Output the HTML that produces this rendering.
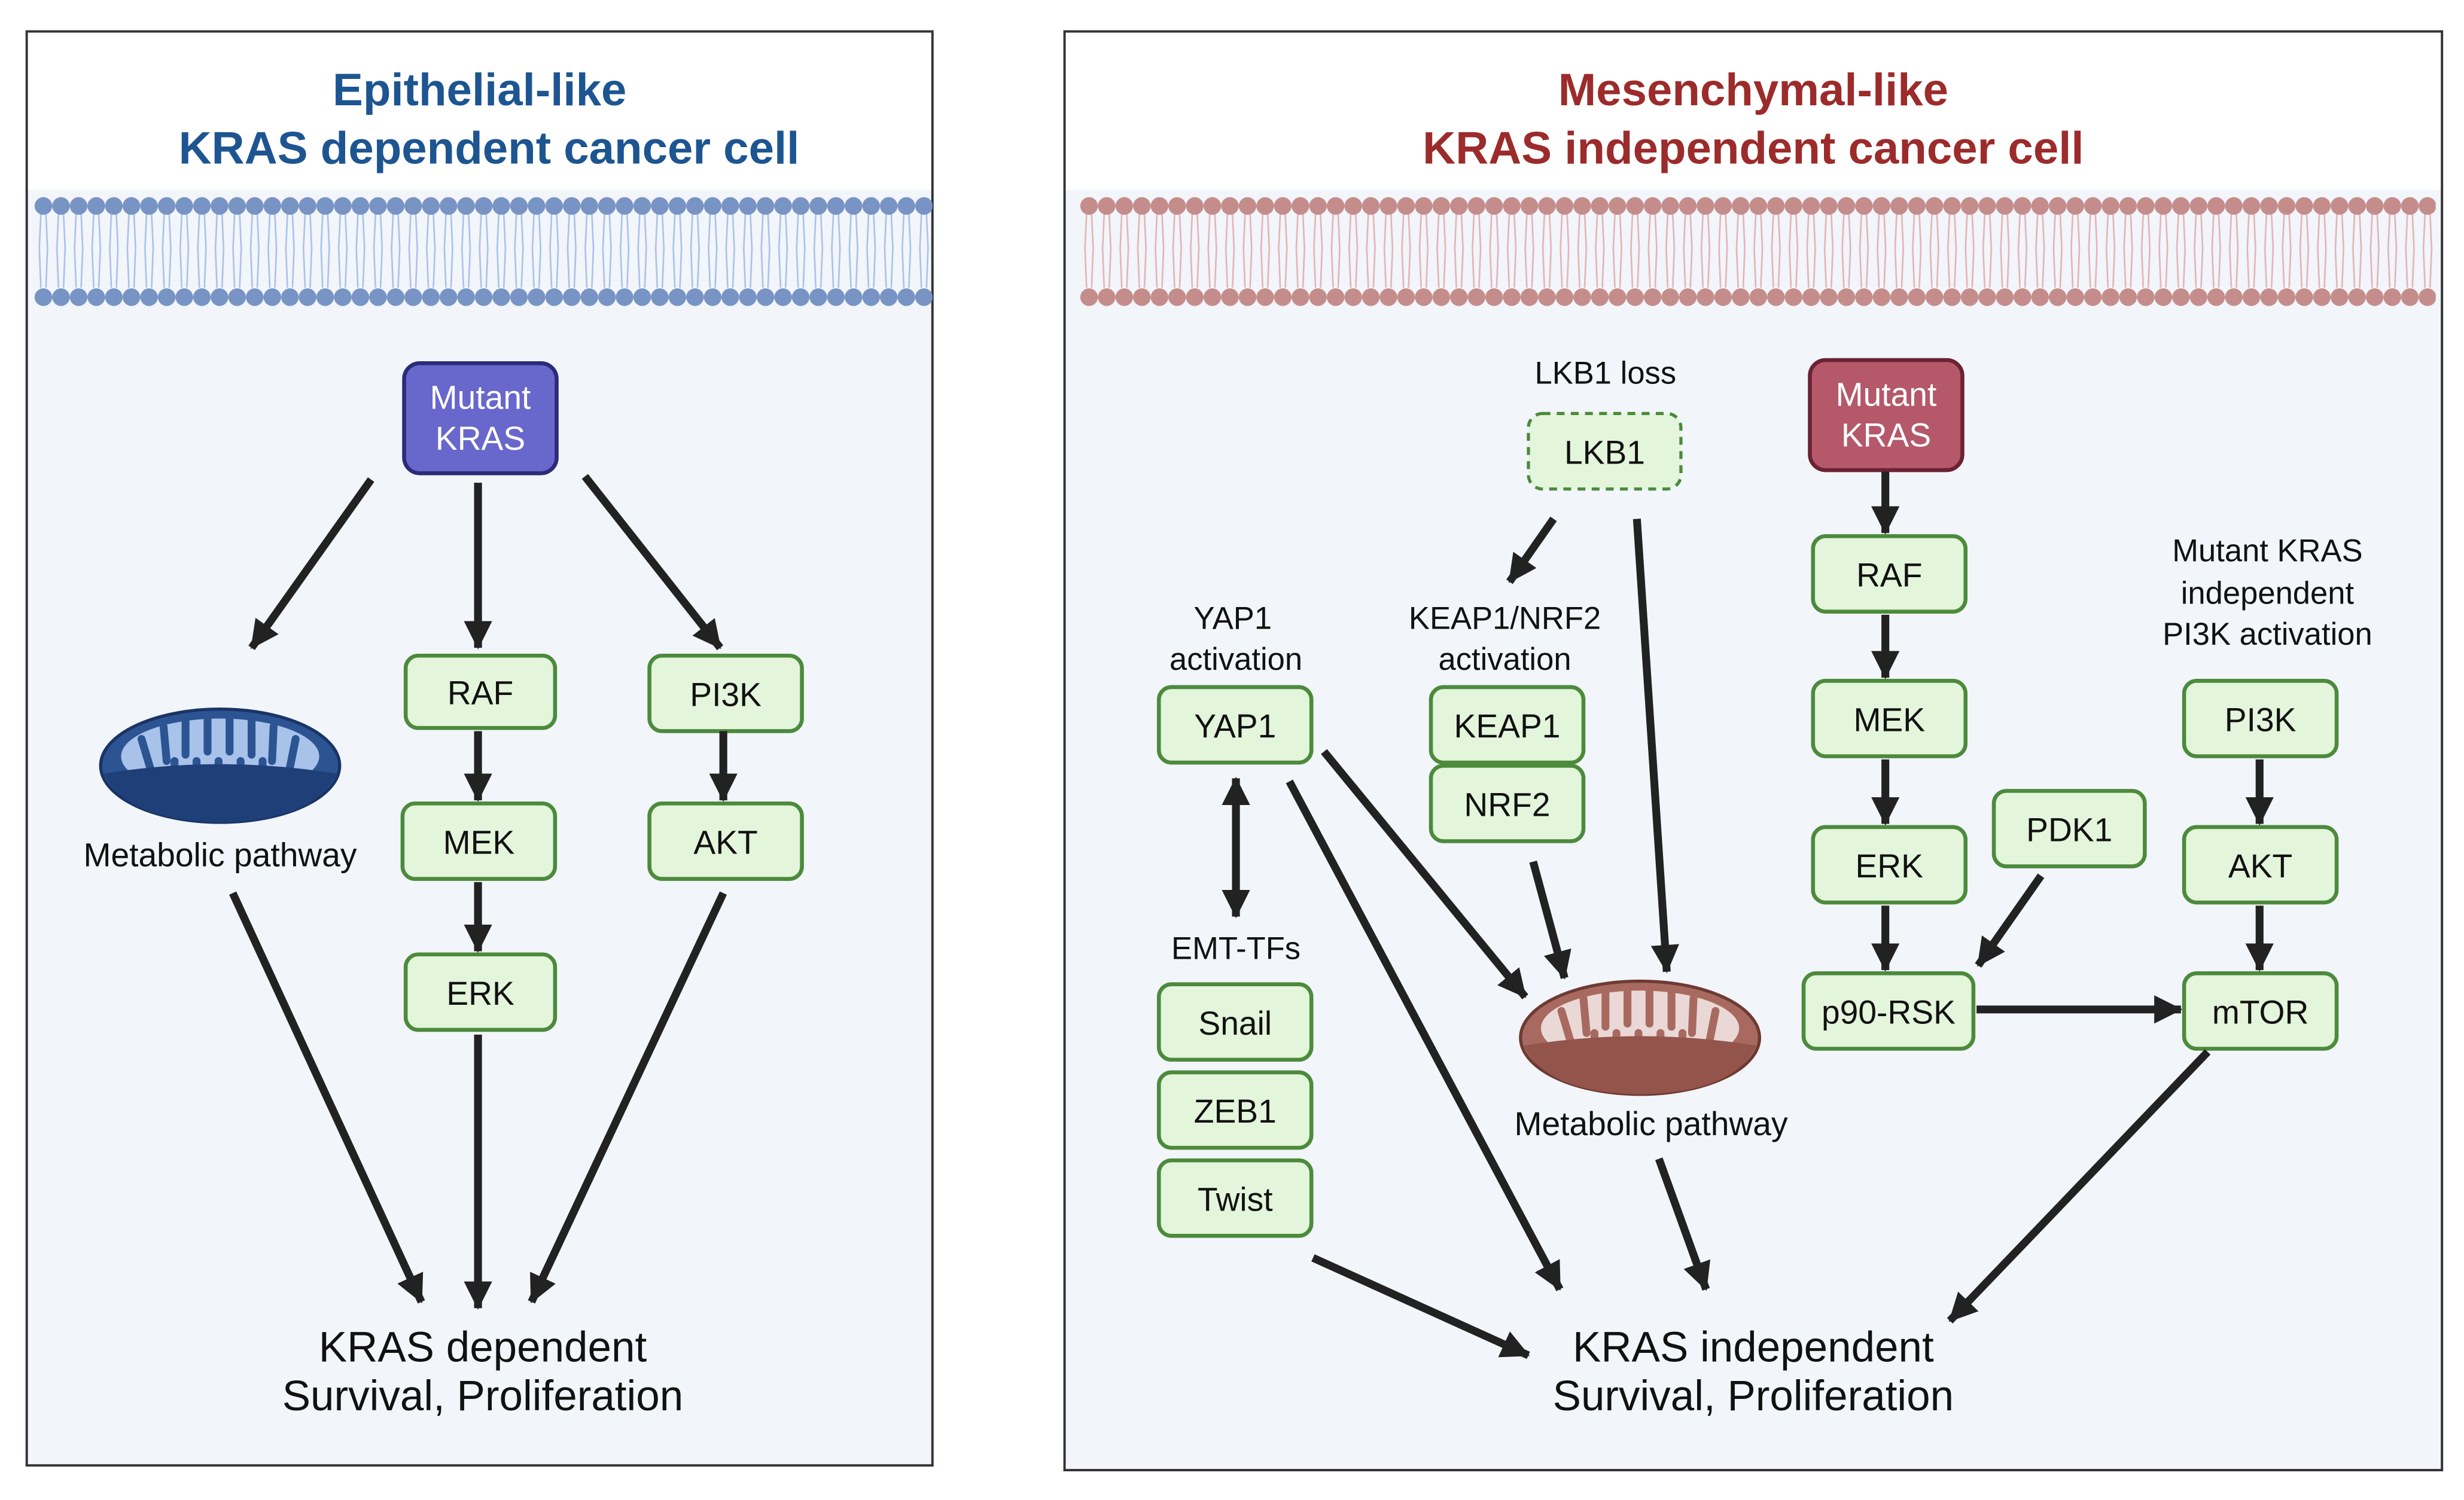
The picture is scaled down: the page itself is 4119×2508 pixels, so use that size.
<!DOCTYPE html>
<html><head><meta charset="utf-8"><style>
html,body{margin:0;padding:0;background:#fff;}
svg{display:block;}
text{font-family:"Liberation Sans",sans-serif;}
</style></head><body>
<svg width="4119" height="2508" viewBox="0 0 1567 954" preserveAspectRatio="none" xmlns="http://www.w3.org/2000/svg">
<defs>
<marker id="ah" markerUnits="userSpaceOnUse" markerWidth="20" markerHeight="18" refX="17" refY="9" orient="auto-start-reverse">
<path d="M0,0 L18,9 L0,18 z" fill="#222"/>
</marker>
<pattern id="memB" x="22" y="0" width="11.2" height="954" patternUnits="userSpaceOnUse">
<path d="M4,136 L3,158 L4,183 M7.2,136 L8.2,158 L7.2,183" stroke="#a9c2ea" stroke-width="1" fill="none"/>
<circle cx="5.6" cy="131" r="5.6" fill="#7894c4"/>
<circle cx="5.6" cy="189" r="5.6" fill="#7894c4"/>
</pattern>
<pattern id="memR" x="687" y="0" width="11.2" height="954" patternUnits="userSpaceOnUse">
<path d="M4,136 L3,158 L4,183 M7.2,136 L8.2,158 L7.2,183" stroke="#e3b4b4" stroke-width="1" fill="none"/>
<circle cx="5.6" cy="131" r="5.6" fill="#c48d8b"/>
<circle cx="5.6" cy="189" r="5.6" fill="#c48d8b"/>
</pattern>
</defs>
<rect width="1567" height="954" fill="#fff"/>
<!-- left panel -->
<rect x="17" y="20" width="576" height="912" fill="#f2f5fa" stroke="#333" stroke-width="1.5"/>
<rect x="17.8" y="20.8" width="574.4" height="100" fill="#fff"/>
<text x="305" y="67" font-size="29" font-weight="bold" fill="#1d5591" text-anchor="middle">Epithelial-like</text>
<text x="311" y="104" font-size="29" font-weight="bold" fill="#1d5591" text-anchor="middle">KRAS dependent cancer cell</text>
<rect x="22" y="124" width="571" height="72" fill="url(#memB)"/>
<!-- right panel -->
<rect x="677" y="20" width="876" height="915" fill="#f2f5fa" stroke="#333" stroke-width="1.5"/>
<rect x="677.8" y="20.8" width="874.4" height="100" fill="#fff"/>
<text x="1115" y="67" font-size="29" font-weight="bold" fill="#9c2b2b" text-anchor="middle">Mesenchymal-like</text>
<text x="1115" y="104" font-size="29" font-weight="bold" fill="#9c2b2b" text-anchor="middle">KRAS independent cancer cell</text>
<rect x="687" y="124" width="862" height="72" fill="url(#memR)"/>

<g font-size="21" text-anchor="middle" fill="#111">
<rect x="257" y="231" width="97" height="70" rx="10" fill="#6767cc" stroke="#2b2b78" stroke-width="2.5"/>
<text x="305.5" y="260" fill="#fff" font-size="21">Mutant</text>
<text x="305.5" y="286" fill="#fff" font-size="21">KRAS</text>
<g fill="#e3f5db" stroke="#4c8a3c" stroke-width="2.5">
<rect x="258" y="417" width="95" height="46" rx="8"/>
<rect x="256" y="511" width="97" height="48" rx="8"/>
<rect x="258" y="607" width="95" height="48" rx="8"/>
<rect x="413" y="417" width="97" height="48" rx="8"/>
<rect x="413" y="511" width="97" height="48" rx="8"/>
</g>
<text x="305.5" y="448">RAF</text>
<text x="304.5" y="543">MEK</text>
<text x="305.5" y="639">ERK</text>
<text x="461.5" y="449">PI3K</text>
<text x="461.5" y="543">AKT</text>
<text x="140" y="551" font-size="21">Metabolic pathway</text>
<text x="307" y="866" font-size="27">KRAS dependent</text>
<text x="307" y="897" font-size="27">Survival, Proliferation</text>

<text x="1021" y="244" font-size="20">LKB1 loss</text>
<rect x="972" y="263" width="97" height="48" rx="9" fill="#e3f5db" stroke="#4c8a3c" stroke-width="2" stroke-dasharray="5,4"/>
<text x="1020.5" y="295">LKB1</text>
<rect x="1151" y="229" width="97" height="70" rx="10" fill="#b4586a" stroke="#6b2232" stroke-width="2.5"/>
<text x="1199.5" y="258" fill="#fff" font-size="21">Mutant</text>
<text x="1199.5" y="284" fill="#fff" font-size="21">KRAS</text>
<g fill="#e3f5db" stroke="#4c8a3c" stroke-width="2.5">
<rect x="1153" y="341" width="97" height="48" rx="8"/>
<rect x="1153" y="433" width="97" height="48" rx="8"/>
<rect x="1153" y="526" width="97" height="48" rx="8"/>
<rect x="1147" y="619" width="108" height="48" rx="8"/>
<rect x="1268" y="503" width="96" height="48" rx="8"/>
<rect x="1389" y="433" width="97" height="48" rx="8"/>
<rect x="1389" y="526" width="97" height="48" rx="8"/>
<rect x="1389" y="619" width="97" height="48" rx="8"/>
<rect x="737" y="437" width="97" height="48" rx="8"/>
<rect x="910" y="437" width="97" height="48" rx="8"/>
<rect x="910" y="487" width="97" height="48" rx="8"/>
<rect x="737" y="626" width="97" height="48" rx="8"/>
<rect x="737" y="682" width="97" height="48" rx="8"/>
<rect x="737" y="738" width="97" height="48" rx="8"/>
</g>
<text x="1201.5" y="373">RAF</text>
<text x="1201.5" y="465">MEK</text>
<text x="1201.5" y="558">ERK</text>
<text x="1201" y="651">p90-RSK</text>
<text x="1316" y="535">PDK1</text>
<text x="1437.5" y="465">PI3K</text>
<text x="1437.5" y="558">AKT</text>
<text x="1437.5" y="651">mTOR</text>
<text x="785.5" y="469">YAP1</text>
<text x="958.5" y="469">KEAP1</text>
<text x="958.5" y="519">NRF2</text>
<text x="785.5" y="658">Snail</text>
<text x="785.5" y="714">ZEB1</text>
<text x="785.5" y="770">Twist</text>
<g font-size="20">
<text x="1442" y="357">Mutant KRAS</text>
<text x="1442" y="384">independent</text>
<text x="1442" y="410">PI3K activation</text>
<text x="784" y="400">YAP1</text>
<text x="786" y="426">activation</text>
<text x="957" y="400">KEAP1/NRF2</text>
<text x="957" y="426">activation</text>
<text x="786" y="610">EMT-TFs</text>
</g>
<text x="1050" y="722" font-size="21">Metabolic pathway</text>
<text x="1115" y="866" font-size="27">KRAS independent</text>
<text x="1115" y="897" font-size="27">Survival, Proliferation</text>
</g>

<!-- mitochondria -->
<g>
<ellipse cx="140" cy="487" rx="76" ry="36" fill="#2c5492" stroke="#1a3466" stroke-width="2"/>
<ellipse cx="140" cy="481" rx="63" ry="24" fill="#a8c2ea"/>
<g stroke="#2c5492" stroke-width="5" stroke-linecap="round">
<line x1="90" y1="470" x2="96" y2="490"/><line x1="104" y1="462" x2="106" y2="484"/>
<line x1="118" y1="458" x2="118" y2="480"/><line x1="132" y1="456" x2="132" y2="478"/>
<line x1="146" y1="456" x2="146" y2="478"/><line x1="160" y1="458" x2="160" y2="480"/>
<line x1="174" y1="462" x2="173" y2="484"/><line x1="188" y1="470" x2="184" y2="490"/>
<line x1="111" y1="502" x2="111" y2="484"/><line x1="125" y1="502" x2="125" y2="484"/>
<line x1="139" y1="502" x2="139" y2="484"/><line x1="153" y1="502" x2="153" y2="484"/>
<line x1="167" y1="502" x2="167" y2="484"/>
</g>
<path d="M66,492 Q140,480 214,492 Q200,522 140,523 Q80,522 66,492z" fill="#1f3f78"/>
</g>
<g>
<ellipse cx="1043" cy="660" rx="76" ry="36" fill="#a86a60" stroke="#6e3a32" stroke-width="2"/>
<ellipse cx="1043" cy="654" rx="63" ry="24" fill="#ead8d6"/>
<g stroke="#a86a60" stroke-width="5" stroke-linecap="round">
<line x1="993" y1="643" x2="999" y2="663"/><line x1="1007" y1="635" x2="1009" y2="657"/>
<line x1="1021" y1="631" x2="1021" y2="653"/><line x1="1035" y1="629" x2="1035" y2="651"/>
<line x1="1049" y1="629" x2="1049" y2="651"/><line x1="1063" y1="631" x2="1063" y2="653"/>
<line x1="1077" y1="635" x2="1076" y2="657"/><line x1="1091" y1="643" x2="1087" y2="663"/>
<line x1="1014" y1="675" x2="1014" y2="657"/><line x1="1028" y1="675" x2="1028" y2="657"/>
<line x1="1042" y1="675" x2="1042" y2="657"/><line x1="1056" y1="675" x2="1056" y2="657"/>
<line x1="1070" y1="675" x2="1070" y2="657"/>
</g>
<path d="M969,665 Q1043,653 1117,665 Q1103,695 1043,696 Q983,695 969,665z" fill="#93544b"/>
</g>

<!-- arrows -->
<g stroke="#222" stroke-width="5" fill="none" marker-end="url(#ah)">
<line x1="236" y1="305" x2="160" y2="412"/>
<line x1="304" y1="307" x2="304" y2="412"/>
<line x1="372" y1="303" x2="458" y2="412"/>
<line x1="304" y1="465" x2="304" y2="509"/>
<line x1="304" y1="561" x2="304" y2="605"/>
<line x1="460" y1="465" x2="460" y2="509"/>
<line x1="148" y1="568" x2="268" y2="828"/>
<line x1="304" y1="658" x2="304" y2="832"/>
<line x1="460" y1="568" x2="338" y2="828"/>

<line x1="988" y1="330" x2="960" y2="370"/>
<line x1="1041" y1="330" x2="1060" y2="618"/>
<line x1="1199" y1="300" x2="1199" y2="339"/>
<line x1="1199" y1="391" x2="1199" y2="431"/>
<line x1="1199" y1="483" x2="1199" y2="524"/>
<line x1="1199" y1="576" x2="1199" y2="617"/>
<line x1="1298" y1="557" x2="1258" y2="614"/>
<line x1="1257" y1="642" x2="1387" y2="642"/>
<line x1="1437" y1="483" x2="1437" y2="524"/>
<line x1="1437" y1="576" x2="1437" y2="617"/>
<line x1="1404" y1="669" x2="1240" y2="840"/>
<line x1="786" y1="495" x2="786" y2="583" marker-start="url(#ah)"/>
<line x1="842" y1="478" x2="970" y2="634"/>
<line x1="820" y1="497" x2="992" y2="820"/>
<line x1="975" y1="548" x2="995" y2="622"/>
<line x1="1055" y1="737" x2="1085" y2="820"/>
<line x1="835" y1="800" x2="972" y2="862"/>
</g>
</svg>
</body></html>
